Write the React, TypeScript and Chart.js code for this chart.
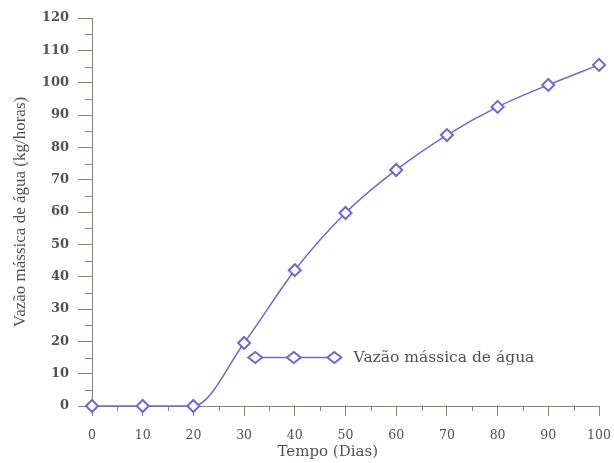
import React, { useEffect, useRef } from "react";
import { Chart, registerables } from "chart.js";

Chart.register(...registerables);

const days = [0, 10, 20, 30, 40, 50, 60, 70, 80, 90, 100];
const flow = [0, 0, 0, 19.5, 42, 59.7, 73, 83.8, 92.5, 99.3, 105.5];
const xTicks = [0, 10, 20, 30, 40, 50, 60, 70, 80, 90, 100];
const yTicks = [0, 10, 20, 30, 40, 50, 60, 70, 80, 90, 100, 110, 120];
const seriesName = "Vazão mássica de água";
const xTitle = "Tempo (Dias)";
const yTitle = "Vazão mássica de água (kg/horas)";

const LINE = "#7565d2";
const AXIS = "#8a8080";
const TEXT = "#555050";

function drawDiamond(ctx: CanvasRenderingContext2D, x: number, y: number) {
  ctx.beginPath();
  ctx.moveTo(x - 7, y);
  ctx.lineTo(x, y - 5.5);
  ctx.lineTo(x + 7, y);
  ctx.lineTo(x, y + 5.5);
  ctx.closePath();
  ctx.fillStyle = "#ffffff";
  ctx.fill();
  ctx.lineWidth = 2;
  ctx.strokeStyle = LINE;
  ctx.stroke();
}

const extras = {
  id: "extras",
  beforeDatasetsDraw(chart: any) {
    const ctx = chart.ctx;
    const xs = chart.scales.x;
    const ys = chart.scales.y;
    const area = chart.chartArea;
    ctx.save();
    ctx.strokeStyle = AXIS;
    ctx.lineWidth = 1;
    for (let v = 5; v < 120; v += 10) {
      const py = Math.round(ys.getPixelForValue(v)) + 0.5;
      ctx.beginPath();
      ctx.moveTo(area.left - 7, py);
      ctx.lineTo(area.left, py);
      ctx.stroke();
    }
    for (let v = 5; v < 100; v += 10) {
      const px = Math.round(xs.getPixelForValue(v)) + 0.5;
      ctx.beginPath();
      ctx.moveTo(px, area.bottom);
      ctx.lineTo(px, area.bottom + 5);
      ctx.stroke();
    }
    // x axis title
    ctx.fillStyle = TEXT;
    ctx.font = "15px 'DejaVu Serif'";
    ctx.textAlign = "center";
    ctx.textBaseline = "middle";
    ctx.fillText(xTitle, xs.getPixelForValue(46.5), chart.height - 11);
    ctx.restore();
  },
  afterDatasetsDraw(chart: any) {
    const ctx = chart.ctx;
    const xs = chart.scales.x;
    const ys = chart.scales.y;
    const y = ys.getPixelForValue(15);
    const x0 = xs.getPixelForValue(32.2);
    const x1 = xs.getPixelForValue(39.8);
    const x2 = xs.getPixelForValue(47.8);
    ctx.save();
    ctx.strokeStyle = LINE;
    ctx.lineWidth = 1.5;
    ctx.beginPath();
    ctx.moveTo(x0, y);
    ctx.lineTo(x2, y);
    ctx.stroke();
    drawDiamond(ctx, x0, y);
    drawDiamond(ctx, x1, y);
    drawDiamond(ctx, x2, y);
    ctx.fillStyle = TEXT;
    ctx.font = "15.5px 'DejaVu Serif'";
    ctx.textBaseline = "middle";
    ctx.textAlign = "left";
    ctx.fillText(seriesName, xs.getPixelForValue(51.6), y);
    ctx.restore();
  },
};

export default function App() {
  const ref = useRef<HTMLCanvasElement>(null);
  useEffect(() => {
    document.body.style.margin = "0";
    const chart = new Chart(ref.current!, {
      type: "line",
      data: {
        labels: days,
        datasets: [
          {
            label: seriesName,
            data: days.map((d, i) => ({ x: d, y: flow[i] })),
            borderColor: LINE,
            borderWidth: 1.5,
            backgroundColor: "#ffffff",
            pointStyle: "rectRot",
            pointRadius: 6,
            pointBorderWidth: 2,
            pointBorderColor: LINE,
            pointBackgroundColor: "#ffffff",
            cubicInterpolationMode: "monotone",
            clip: false,
          },
        ],
      },
      plugins: [extras],
      options: {
        animation: false,
        responsive: false,
        maintainAspectRatio: false,
        layout: { padding: { top: 18, right: 15, left: 0, bottom: 0 } },
        plugins: { legend: { display: false }, tooltip: { enabled: false } },
        scales: {
          x: {
            type: "linear",
            min: 0,
            max: 100,
            afterFit: (s: any) => {
              s.height = 57;
              s.paddingLeft = 0;
              s.paddingRight = 0;
            },
            afterBuildTicks: (s: any) => {
              s.ticks = xTicks.map((v) => ({ value: v }));
            },
            border: { display: true, color: AXIS, width: 1 },
            grid: { drawOnChartArea: false, drawTicks: true, tickLength: 10, tickColor: AXIS },
            ticks: {
              padding: 12,
              color: TEXT,
              font: { family: "'DejaVu Serif'", size: 12.5 },
              maxRotation: 0,
            },
            title: { display: false },
          },
          y: {
            type: "linear",
            min: 0,
            max: 120,
            afterFit: (s: any) => {
              s.width = 92;
              s.paddingTop = 0;
              s.paddingBottom = 0;
            },
            afterBuildTicks: (s: any) => {
              s.ticks = yTicks.map((v) => ({ value: v }));
            },
            border: { display: true, color: AXIS, width: 1 },
            grid: { drawOnChartArea: false, drawTicks: true, tickLength: 14, tickColor: AXIS },
            ticks: {
              padding: 9,
              color: TEXT,
              font: { family: "'DejaVu Serif'", size: 13, weight: "bold" },
            },
            title: {
              display: true,
              text: yTitle,
              color: TEXT,
              font: { family: "'Liberation Serif'", size: 17 },
              padding: { top: 10, bottom: 0 },
            },
          },
        },
      },
    } as any);
    return () => chart.destroy();
  }, []);
  return (
    <div style={{ position: "absolute", left: 0, top: 0, width: 614, height: 463, background: "#fff" }}>
      <canvas ref={ref} width={614} height={463} style={{ width: 614, height: 463 }} />
    </div>
  );
}
